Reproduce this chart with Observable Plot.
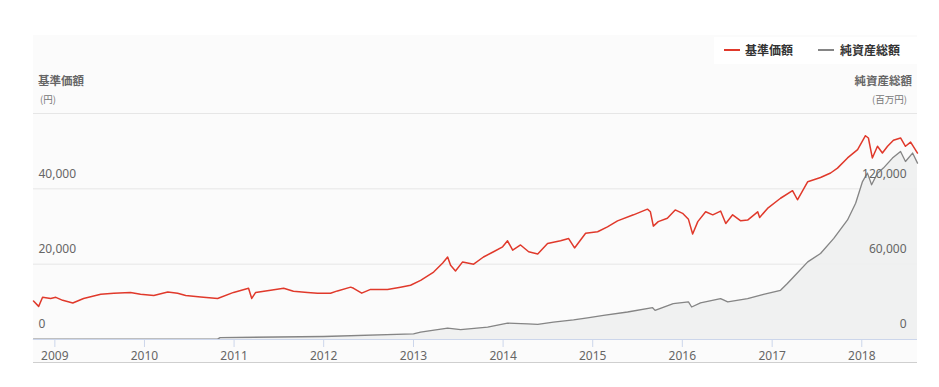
<!DOCTYPE html>
<html>
<head>
<meta charset="utf-8">
<script src="https://cdn.jsdelivr.net/npm/d3@7"></script>
<script src="https://cdn.jsdelivr.net/npm/@observablehq/plot@0.6"></script>
<style>
  html, body { margin: 0; padding: 0; background: #ffffff; }
  body { width: 939px; height: 387px; position: relative; overflow: hidden;
         font-family: "Noto Sans CJK JP", "Noto Sans", sans-serif; }
  #panel { position: absolute; left: 33px; top: 35px; width: 884px; height: 327px;
           background: #fbfbfb; border-bottom: 1px solid #cfcfcf; }
  #legendbox { position: absolute; left: 714px; top: 37px; width: 203px; height: 27px; background: #ffffff; }
  .lg { position: absolute; top: 42px; font-size: 12px; font-weight: bold; color: #333; line-height: 16px; }
  .sw { position: absolute; top: 49px; width: 16px; height: 2px; }
  .ttl { position: absolute; font-size: 11.5px; font-weight: bold; color: #666; line-height: 14px; }
  .unit { position: absolute; font-size: 9.5px; color: #777; line-height: 12px; }
  #chart { position: absolute; left: 0; top: 105px; }
</style>
</head>
<body>
<div id="panel"></div>
<div id="legendbox"></div>
<div class="sw" style="left:724px;background:#e0392b"></div>
<div class="lg" style="left:745px">基準価額</div>
<div class="sw" style="left:818px;background:#858585"></div>
<div class="lg" style="left:840px">純資産総額</div>
<div class="ttl" style="left:38px;top:73px">基準価額</div>
<div class="unit" style="left:40px;top:93px">(円)</div>
<div class="ttl" style="right:27px;top:73px;text-align:right">純資産総額</div>
<div class="unit" style="right:32px;top:93px;text-align:right">(百万円)</div>
<div id="chart"></div>
<script>
// 基準価額 (円)
const navDates = ["2008-10-06","2008-10-27","2008-11-12","2008-12-15","2009-01-05","2009-02-02","2009-03-15","2009-04-28","2009-07-07","2009-08-29","2009-11-05","2009-12-16","2010-02-08","2010-04-06","2010-05-16","2010-06-18","2010-08-18","2010-10-26","2010-12-30","2011-03-01","2011-03-14","2011-03-30","2011-05-30","2011-07-22","2011-08-31","2011-10-27","2011-12-07","2012-01-29","2012-02-26","2012-04-20","2012-05-02","2012-06-04","2012-07-10","2012-09-17","2012-11-09","2012-12-20","2013-01-30","2013-03-24","2013-04-30","2013-05-20","2013-06-01","2013-06-21","2013-07-20","2013-09-03","2013-10-13","2013-11-23","2013-12-30","2014-01-19","2014-02-09","2014-03-13","2014-04-15","2014-05-22","2014-07-01","2014-08-23","2014-09-25","2014-10-19","2014-12-03","2015-01-21","2015-03-02","2015-04-12","2015-06-16","2015-08-12","2015-08-24","2015-09-05","2015-09-25","2015-11-01","2015-12-03","2016-01-02","2016-01-26","2016-02-12","2016-03-04","2016-04-05","2016-05-04","2016-06-05","2016-06-26","2016-07-24","2016-08-26","2016-09-23","2016-11-03","2016-11-11","2016-12-13","2017-02-04","2017-03-25","2017-04-14","2017-05-26","2017-07-17","2017-08-27","2017-09-24","2017-11-04","2017-12-15","2018-01-16","2018-01-28","2018-02-13","2018-03-06","2018-03-26","2018-04-16","2018-05-10","2018-06-08","2018-06-28","2018-07-19","2018-08-16"];
const navValues = [10200,8800,11200,10900,11200,10400,9700,10900,12000,12300,12500,12000,11700,12600,12300,11700,11300,10900,12500,13600,10900,12500,13100,13600,12800,12500,12300,12300,12900,13900,13600,12300,13300,13300,13900,14400,15700,17900,20300,21900,19700,18200,20600,20000,21900,23300,24600,26200,23700,25100,23300,22700,25500,26200,26800,24300,28200,28600,29900,31500,33100,34600,33900,30100,31300,32200,34400,33500,31900,28000,31300,33900,33100,34100,30800,33100,31500,31700,33900,32400,34800,37500,39500,37100,41900,43000,44200,45500,48200,50400,54100,53500,48200,51300,49500,51300,52900,53500,51300,52400,49500];

// 純資産総額 (百万円)
const aumDates = ["2008-10-06","2010-10-26","2010-11-05","2012-01-01","2013-01-01","2013-01-30","2013-05-20","2013-07-12","2013-10-30","2014-01-19","2014-04-11","2014-05-22","2014-07-25","2014-10-15","2014-12-11","2015-02-14","2015-05-23","2015-09-02","2015-09-12","2015-11-25","2016-01-26","2016-02-08","2016-03-15","2016-06-05","2016-07-04","2016-09-23","2016-11-27","2017-02-04","2017-03-04","2017-03-29","2017-05-26","2017-07-17","2017-09-09","2017-11-04","2017-12-07","2018-01-04","2018-01-24","2018-02-10","2018-03-06","2018-03-30","2018-05-06","2018-06-08","2018-06-28","2018-07-27","2018-08-16"];
const aumValues = [200,300,1500,2400,4500,5900,9000,7800,9800,13000,12500,12000,13800,15700,17300,19200,21900,25300,23200,28500,29900,25900,29100,32500,29900,32500,36000,39200,44600,49800,61800,68500,80500,95200,108500,125800,132500,123200,132500,136500,144500,149800,141800,148500,140500];

const leftTicks = [0, 20000, 40000];
const rightTicks = [0, 60000, 120000];
const gridValues = [20000, 40000, 60000];
const xDomain = ["2008-10-06", "2018-08-16"];

const parse = d3.utcParse("%Y-%m-%d");
const nav = navDates.map((d, i) => ({date: parse(d), value: navValues[i]}));
const aum = aumDates.map((d, i) => ({date: parse(d), value: aumValues[i]}));
const ratio = 3; // right axis 0–180000 ↔ left axis 0–60000
const fmt = d3.format(",");

const chart = Plot.plot({
  width: 939,
  height: 282,
  marginTop: 8,
  marginBottom: 48,
  marginLeft: 33,
  marginRight: 22,
  style: {background: "transparent", fontFamily: "'Noto Sans', sans-serif"},
  x: {type: "utc", domain: xDomain.map(parse)},
  y: {domain: [0, 60000], axis: null},
  marks: [
    Plot.ruleY(gridValues, {stroke: "#e6e6e6", strokeWidth: 1}),
    Plot.areaY(aum, {x: "date", y: d => d.value / ratio, fill: "#eef0f0", fillOpacity: 0.9}),
    Plot.lineY(aum, {x: "date", y: d => d.value / ratio, stroke: "#858585", strokeWidth: 1.3}),
    Plot.lineY(nav, {x: "date", y: "value", stroke: "#e0392b", strokeWidth: 1.5}),
    Plot.text(leftTicks, {y: d => d, text: d => fmt(d), frameAnchor: "left", textAnchor: "start", dx: 5, dy: -15, fill: "#666", fontSize: 12}),
    Plot.text(rightTicks, {y: d => d / ratio, text: d => fmt(d), frameAnchor: "right", textAnchor: "end", dx: -11, dy: -15, fill: "#666", fontSize: 12}),
    Plot.ruleY([0], {stroke: "#ccd6eb", strokeWidth: 1}),
    Plot.axisX({ticks: d3.utcYear.every(1), tickFormat: d3.utcFormat("%Y"), tickSize: 8, tickPadding: 4, stroke: "#ccd6eb", color: "#666", fontSize: 12, label: null})
  ]
});
document.getElementById("chart").appendChild(chart);
</script>
</body>
</html>
